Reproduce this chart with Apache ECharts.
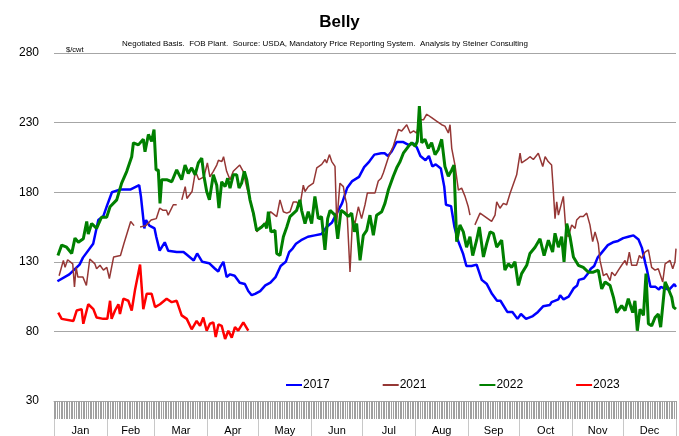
<!DOCTYPE html>
<html>
<head>
<meta charset="utf-8">
<script src="https://cdn.jsdelivr.net/npm/echarts@6/dist/echarts.min.js"></script>
<style>
  html, body { margin: 0; padding: 0; background: #fff; }
  #chart { width: 679px; height: 436px; }
</style>
</head>
<body>
<div id="chart"></div>
<script>
// month names, day-of-year where each month starts
let months = ['Jan', 'Feb', 'Mar', 'Apr', 'May', 'Jun', 'Jul', 'Aug', 'Sep', 'Oct', 'Nov', 'Dec'];
let monthStarts = [0, 31, 59, 90, 120, 151, 181, 212, 243, 273, 304, 334, 365];
let yTicks = [30, 80, 130, 180, 230, 280];

// [day of year, $/cwt]
let belly2017 = [[2,116],[9,121],[15,128],[17,133],[23,143],[26,160],[29,163],[31,170],[34,180],[39,182],[45,182],[50,185],[51,177],[53,154],[54,160],[56,156],[59,154],[60,148],[62,138],[65,144],[67,138],[72,137],[76,137],[78,135],[82,131],[84,136],[87,130],[91,129],[94.5,125],[96.4,123],[97.4,126],[99.4,130],[101.3,119],[103.3,121],[106,120],[109,115],[112,114],[114,109],[116,106],[118,107],[121,109],[124,113],[127,115],[130,119],[133,127],[136,130],[138,137],[140,139.5],[142,143],[145,145.5],[149,148],[153,149],[157,150],[160,155],[163,158],[166,165],[169,172],[172,183],[175,188],[179,191],[182,198],[185,202],[188,207],[192,208],[194,208],[196,206],[198,209],[201,216],[205,216],[208,214],[211,215],[213,212],[215,206],[218,203],[220,206],[222,198.5],[224,200],[227,197],[229,184],[230,171],[233,170],[235,155],[237,145.5],[240,136],[242,127],[245,127],[248,128],[251,117],[254,114],[257,107],[260,102],[262,102],[266,94],[269,94],[272,89],[274,92.5],[277,89],[281,91],[284,94],[287,98],[291,99],[292,101],[296,103],[297,106],[299,103],[302,105],[305,111],[307,113],[308,117],[311,118],[313,121],[315,125],[317,127],[319,133],[322,137.5],[325,142],[328,144],[331,145],[334,147],[337,148],[340,149],[343,146],[345,140],[347,129],[348,124],[350,112],[353,112],[355,110],[356,112],[358,111],[361,110],[362,109],[364,114],[365,112]];

let belly2021 = [[3,120],[5.5,131],[6.5,126],[8,131.5],[11,128.5],[12,112],[13,126],[14,119],[17,119],[19,113],[21,132],[24,128.5],[25,125],[27,127.5],[29,124],[31,126],[32.5,118],[35,133.5],[39,134.5],[41,143],[45,159],[47,156],[48.5,null],[50.5,155],[54,156],[57,160],[60,161],[62,168.5],[64,167],[66,167],[67,163.5],[70,171],[72,171],[73.5,null],[75,174.5],[77,184],[78,175.5],[81,180.5],[83,195],[85,189],[88,191],[90,201],[91.5,191],[93.5,195],[95.5,199.5],[96.5,203],[98.5,202],[99.5,205.5],[101.3,195],[103.3,189],[105.2,195],[109,199.5],[111,195],[113,184],[115,174.5],[117,163.5],[119,151.5],[121,155],[124,157.5],[127,166],[130.7,162.5],[132.6,174.5],[134.6,166],[136.6,165],[138.5,166],[140.4,173],[142.4,173],[144.3,170],[146.3,185],[147.3,180.5],[149.2,184],[152.2,186.5],[154.2,197.5],[157.1,200],[159.1,203.5],[160,201],[161.6,207],[163,202],[164.9,198.5],[165.9,158],[167.8,186.5],[169.8,184],[170.7,177],[171.7,172],[173.7,122.7],[175.2,161],[176.6,157.5],[178.6,169.5],[180.5,161],[182.5,171],[183.9,179.5],[188.4,179.5],[190.3,188],[192,190],[193.3,194],[196.2,205],[199.1,213],[202.1,225],[204,224],[207,228.5],[209,222.5],[211,224],[212.8,222.5],[214.8,232],[216.8,232],[218.7,236],[221.6,233.5],[224.5,231],[227.5,228.5],[229.4,227.5],[231.4,222.5],[232.4,228.5],[233.4,211.5],[235.3,199.5],[237.3,181.5],[239.2,183],[241.2,177],[243.1,169.5],[244.1,163.5],[245.5,null],[247,156.5],[250,165],[252.9,162.5],[256.8,159],[258.8,163.5],[259.8,173],[261.7,168.5],[263.7,172],[265.6,171],[267.6,179],[271.5,192.5],[273.5,208],[274.4,201],[277.4,203.5],[279.3,205.5],[281.3,203.5],[284.2,208],[286.8,198.5],[288.2,205.5],[290,202],[292,199.5],[293,181.5],[294,161],[295,173],[296,163.5],[298.9,177],[300.5,150.5],[301.8,148],[303.8,156.5],[305.8,154],[306.7,160],[308.7,162.5],[310.6,162.5],[312.6,165],[314.5,156.5],[316.1,144.5],[317.5,151.5],[319.4,143],[320.4,131],[322.4,120],[324.3,121.5],[326.3,116.5],[327.3,122.5],[329.2,120],[331.2,124],[333.1,127.5],[335.1,131],[336.1,127.5],[337.6,137],[339,127.5],[341.9,127.5],[343.5,134.5],[344.9,132.5],[346.8,137],[348.8,138.5],[350.7,126],[352.7,124],[354.6,125],[357.2,115.5],[358.6,128.5],[361.5,131],[363.1,125],[364.4,130],[365,139.5]];

let belly2022 = [[2.3,134.5],[4.5,142],[7.4,140.5],[10.4,136],[12.3,147],[14.3,144],[17.2,146.5],[19.2,159],[20.1,150],[22.1,157.5],[25,154],[27.9,162],[30.9,162],[32.9,169.5],[36.8,174.5],[39.7,186.5],[42.7,195],[45.6,205.5],[46.6,215.5],[49.5,214],[52.4,218],[53.4,209],[55.4,221.5],[57.3,216.5],[58.7,225],[59.9,196],[61.2,196],[62.2,172],[63.2,189],[66.1,189],[69.1,187.5],[72,196],[74.9,189],[76.9,199.5],[78.8,193.5],[80.8,197.5],[82.8,192.5],[84.7,201],[86.7,204.5],[88,191.5],[89.6,180.5],[91.2,174.5],[93.5,192.5],[95.5,185],[96.8,168.5],[98.4,187.5],[100.4,184],[101.9,190],[103.3,183],[105.2,192.5],[107.2,192.5],[108.6,183],[110.1,186.5],[111.7,195],[113.1,189],[115,174.5],[117,165],[118.9,152.5],[121.9,155],[123.8,157.5],[124.8,154],[125.8,166],[127.3,151.5],[129.7,152.5],[130.7,136],[132.6,134.5],[134.6,148],[136.6,155],[138.5,162.5],[142.4,167],[144.3,174.5],[145.3,167],[147.3,157.5],[149.2,166],[151.2,157.5],[153.1,177],[155.1,161],[157,162.5],[159,138.5],[160.6,161],[162,167],[164.9,163.5],[166.5,146.5],[168.4,167],[170.7,165],[172.7,162.5],[174.7,165],[176.2,151.5],[177.6,157.5],[179.6,131],[181.5,149],[183.5,152.5],[185.4,163.5],[187.4,149],[189.3,163.5],[192.3,166],[194.2,172],[196.2,181.5],[199.1,191.5],[201.1,197.5],[203.1,202],[205,208],[208,213],[209.9,215.5],[211.9,213],[213.2,216.5],[214.4,241.8],[215.8,215.5],[217.7,218],[219.7,211.5],[221.6,215.5],[223.6,207],[225.5,210.5],[227.5,218],[229.4,198.5],[231.4,191.5],[233.4,196],[234.7,199.5],[236.3,144.5],[238.2,156.5],[240.2,151.5],[242.1,140.5],[244.1,148],[245.7,134.5],[248,145.5],[249.6,155],[252,133.5],[253.9,143],[255.9,151.5],[257.8,150.5],[259.8,140.5],[262.7,145.5],[264.6,124],[266.6,128.5],[268.6,126],[270.5,130],[272.5,113],[274.4,121.5],[277.4,127.5],[279.3,136],[282.3,140.5],[285.2,146.5],[287.6,134.5],[290.1,145.5],[291.1,146.5],[292.6,137],[294,150.5],[296,140.5],[297.9,148],[299.3,130],[300.9,157.5],[302.8,148],[304.8,133.5],[307.7,127.5],[310.6,126],[313.6,122.5],[316.5,122.5],[319.4,124],[321.4,110.5],[323.4,115.5],[326.3,113],[328.3,104.5],[330.2,93.5],[333.1,98.5],[335.1,95],[337,103.5],[339.6,93.5],[340.9,102],[342.3,80.5],[343.9,96],[345.9,91.5],[347.4,121.5],[348.8,85.5],[350.7,84],[352.7,90],[354.6,92.5],[356,83],[358.6,115.5],[360.5,110.5],[362.5,104.5],[363.5,97.5],[365,96]];

let belly2023 = [[2.5,93.5],[4.5,89],[11.4,87.5],[13.3,95],[16.2,96],[17.2,85.5],[20.1,99.5],[23.1,96],[25,90],[28.9,89],[31.3,89],[32.9,102],[33.8,89],[35.8,95],[37.8,99.5],[38.7,92.5],[40.7,103.5],[43.6,102],[45.6,95],[47.5,109.5],[50.5,128],[52.4,96],[54.4,107],[57.3,107],[59.3,97.5],[62.2,99.5],[66.1,103.5],[69.1,101],[72,102],[74.9,91.5],[77.9,89],[80.8,81.5],[83.7,87.5],[85.7,84],[87.6,90],[89.6,80.5],[91.5,85.5],[93.5,86.5],[94.9,76],[96.5,85],[98.4,84],[100.4,74.5],[102.3,80.5],[104.3,75.5],[106.2,83],[108.1,80.5],[111.1,86.5],[114,80.5]];

let seriesNames = ['2017', '2021', '2022', '2023'];
let seriesColors = ['#0000ff', '#953735', '#008000', '#ff0000'];
let seriesWidths = [2.5, 1.5, 3, 2.5];
let seriesData = [belly2017, belly2021, belly2022, belly2023];

let font = 'Liberation Sans, Arial, sans-serif';
let monthMids = months.map((m, i) => (monthStarts[i] + monthStarts[i + 1]) / 2);

let chart = echarts.init(document.getElementById('chart'));
let option = {
  animation: false,
  backgroundColor: '#fff',
  title: [
    {
      text: 'Belly',
      left: 'center',
      top: 9,
      textStyle: {fontFamily: font, fontSize: 17, fontWeight: 'bold', color: '#000'}
    },
    {
      text: 'Negotiated Basis.  FOB Plant.  Source: USDA, Mandatory Price Reporting System.  Analysis by Steiner Consulting',
      left: 117,
      top: 35,
      textStyle: {fontFamily: font, fontSize: 8, fontWeight: 'normal', color: '#000'}
    },
    {
      text: '$/cwt',
      left: 61,
      top: 41,
      textStyle: {fontFamily: font, fontSize: 7.5, fontWeight: 'normal', color: '#000'}
    }
  ],
  legend: {
    data: seriesNames,
    left: 281,
    top: 374,
    icon: 'rect',
    itemWidth: 16,
    itemHeight: 2,
    itemGap: 53,
    textStyle: {fontFamily: font, fontSize: 12, color: '#000', padding: [0, 0, 0, -4]}
  },
  grid: {left: 54, right: 3, top: 53, bottom: 35},
  xAxis: [
    {
      type: 'value',
      position: 'bottom',
      min: 0,
      max: 365,
      axisLine: {show: true, lineStyle: {color: '#a6a6a6'}},
      axisTick: {show: true, customValues: monthStarts, length: 35, lineStyle: {color: '#c8c8c8'}},
      axisLabel: {
        customValues: monthMids,
        margin: 24,
        fontFamily: font,
        fontSize: 11,
        color: '#000',
        formatter: function (v) {
          return months[monthMids.indexOf(v)];
        }
      },
      splitLine: {show: false}
    },
    {
      // daily ticks band under the plot
      type: 'value',
      position: 'bottom',
      offset: 0,
      min: 0,
      max: 365,
      interval: 1,
      axisLine: {show: false},
      axisTick: {show: true, length: 18, lineStyle: {color: '#a0a0a0', width: 1}},
      axisLabel: {show: false},
      splitLine: {show: false}
    }
  ],
  yAxis: {
    type: 'value',
    min: yTicks[0],
    max: yTicks[yTicks.length - 1],
    interval: 50,
    axisLine: {show: false},
    axisTick: {show: false},
    axisLabel: {fontFamily: font, fontSize: 12, color: '#000', margin: 15},
    splitLine: {lineStyle: {color: '#a6a6a6', width: 1}}
  },
  series: seriesNames.map((name, i) => ({
    name: name,
    type: 'line',
    xAxisIndex: 0,
    data: seriesData[i],
    symbol: 'none',
    connectNulls: false,
    lineStyle: {color: seriesColors[i], width: seriesWidths[i]},
    itemStyle: {color: seriesColors[i]}
  }))
};
chart.setOption(option);
</script>
</body>
</html>
